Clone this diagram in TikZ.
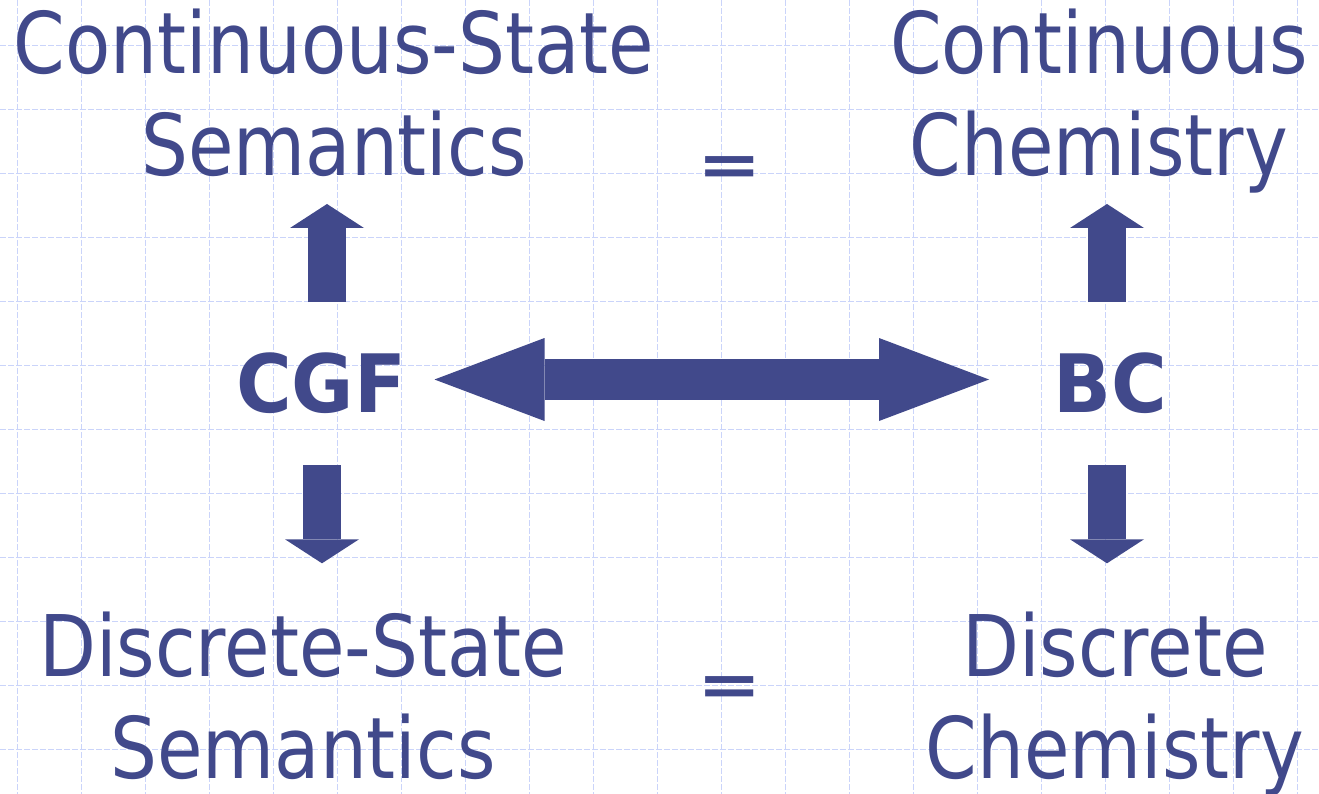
\documentclass[tikz,border=0pt]{standalone}
\usepackage{fontspec}
\usetikzlibrary{arrows.meta}
\newfontfamily\diagfont{DejaVu Sans}[FakeStretch=0.87]
\newfontfamily\diagbold{DejaVu Sans}[FakeStretch=0.943]
\newfontfamily\eqfont{DejaVu Sans}[FakeStretch=1.28]
\definecolor{ink}{RGB}{65,73,139}
\definecolor{gridline}{RGB}{202,212,250}

\begin{document}
\begin{tikzpicture}[x=1pt,y=-1pt,
  term/.style={text=ink, font=\diagfont\fontsize{85}{101.7}\selectfont,
    align=center, inner sep=0pt, anchor=base},
  keyterm/.style={text=ink, font=\diagbold\bfseries\fontsize{80.5}{97}\selectfont,
    inner sep=0pt, anchor=base},
  eqsign/.style={text=ink, font=\eqfont\bfseries\fontsize{60}{66}\selectfont,
    inner sep=0pt, anchor=base},
  blockarrow/.style={draw=ink, line width=38pt,
    -{Triangle[length=24pt,width=74pt,line width=0pt]}},
  bigarrow/.style={draw=ink, line width=41.6pt,
    {Triangle[length=110pt,width=83pt,line width=0pt]}-{Triangle[length=110pt,width=83pt,line width=0pt]}},
  gridrule/.style={draw=gridline, line width=1.3pt, dash pattern=on 6pt off 2pt}]

  % canvas
  \fill[white] (0,0) rectangle (1319,794);
  \useasboundingbox (0,0) rectangle (1319,794);

  % background grid
  \foreach \gx in {0,...,20}
    \draw[gridrule] (17.5+64*\gx,0) -- (17.5+64*\gx,794);
  \foreach \gy in {0,...,11}
    \draw[gridrule] (0,45.7+64*\gy) -- (1319,45.7+64*\gy);

  % labels (anchored on the baseline of their last line)
  \node[term] (cs) at (334,175.7) {Continuous-State\\Semantics};
  \node[term] (cc) at (1099,175.7) {Continuous\\Chemistry};
  \node[term] (ds) at (303,778.4) {Discrete-State\\Semantics};
  \node[term] (dc) at (1115,778.4) {Discrete\\Chemistry};
  \node[keyterm] (cgf) at (321,412.7) {CGF};
  \node[keyterm] (bc) at (1110,412.7) {BC};
  \node[eqsign] (eqtop) at (730,185.8) {=};
  \node[eqsign] (eqbot) at (730,705.7) {=};

  % arrow end points
  \coordinate (cgf-up)   at (327,302);
  \coordinate (cs-in)    at (327,204);
  \coordinate (cgf-down) at (322,465);
  \coordinate (ds-in)    at (322,563.3);
  \coordinate (bc-up)    at (1107,302);
  \coordinate (cc-in)    at (1107,204);
  \coordinate (bc-down)  at (1107,465);
  \coordinate (dc-in)    at (1107,563.3);
  \coordinate (cgf-side) at (434.5,379.5);
  \coordinate (bc-side)  at (989,379.5);

  % connectors
  \draw[blockarrow] (cgf-up) -- (cs-in);
  \draw[blockarrow] (cgf-down) -- (ds-in);
  \draw[blockarrow] (bc-up) -- (cc-in);
  \draw[blockarrow] (bc-down) -- (dc-in);
  \draw[bigarrow] (cgf-side) -- (bc-side);
\end{tikzpicture}
\end{document}
